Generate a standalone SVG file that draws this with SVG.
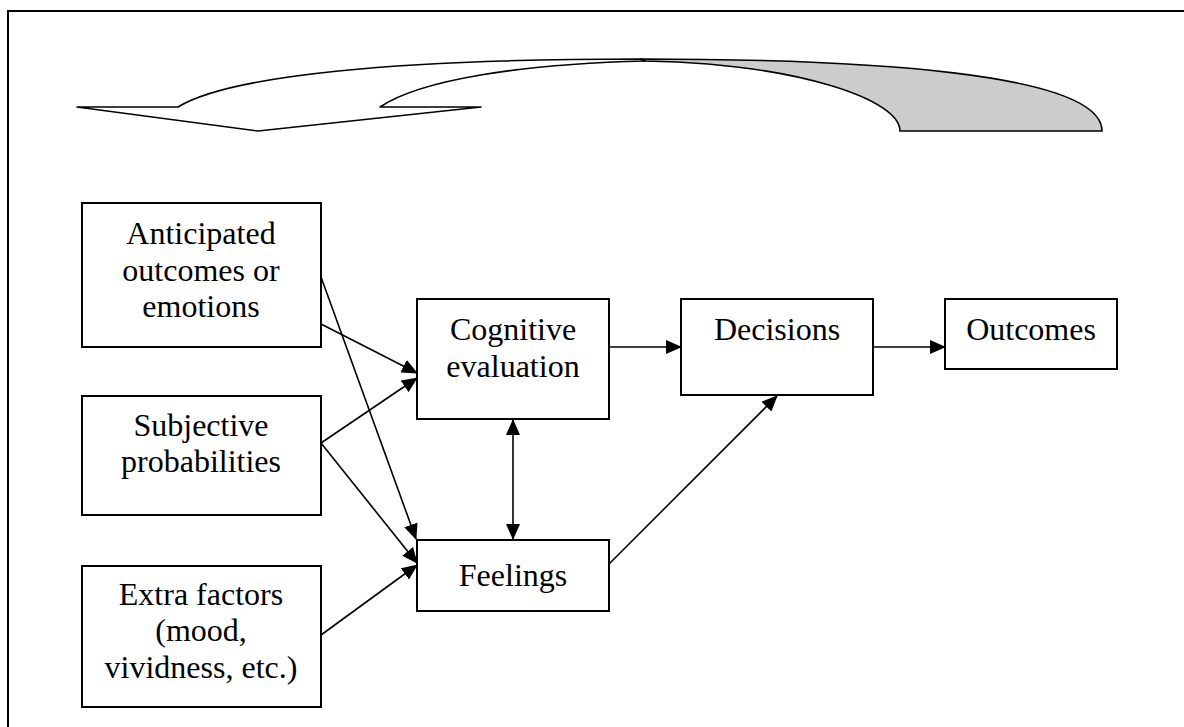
<svg xmlns="http://www.w3.org/2000/svg" width="1184" height="727" viewBox="0 0 1184 727">
<style>
.box{fill:#fff;stroke:#000;stroke-width:2}
.t{font-size:32px;fill:#000;text-anchor:middle}
.c{fill:none;stroke:#000;stroke-width:1.6}
</style>
<defs>
<marker id="ah" markerUnits="userSpaceOnUse" markerWidth="16" markerHeight="14" refX="15" refY="7" orient="auto-start-reverse">
<path d="M0,0 L16,7 L0,14 Z" fill="#000"/>
</marker>
</defs>
<rect x="8" y="11" width="1200" height="800" fill="#fff" stroke="#000" stroke-width="2"/>
<g id="curved-arrow">
<path d="M640,59 C860,59 1102,72 1102,131 L900,131 C900,100 800,64 645,61 Z" fill="#ccc" stroke="#000" stroke-width="1.6"/>
<path d="M77,107 L178,107 C230,75 400,59 640,59 L645,61 C520,64 420,80 380,107 L481,107 L258,131 Z" fill="#fff" stroke="#000" stroke-width="1.6" stroke-linejoin="round"/>
</g>
<g id="connectors">
<line class="c" x1="321" y1="324" x2="417" y2="373" marker-end="url(#ah)"/>
<line class="c" x1="321" y1="277" x2="416" y2="539" marker-end="url(#ah)"/>
<line class="c" x1="321" y1="443" x2="417" y2="378" marker-end="url(#ah)"/>
<line class="c" x1="321" y1="443" x2="417" y2="563" marker-end="url(#ah)"/>
<line class="c" x1="321" y1="635" x2="417" y2="565" marker-end="url(#ah)"/>
<line class="c" x1="609" y1="347" x2="681" y2="347" marker-end="url(#ah)"/>
<line class="c" x1="513" y1="420" x2="513" y2="539" marker-start="url(#ah)" marker-end="url(#ah)"/>
<line class="c" x1="609" y1="564" x2="777" y2="396" marker-end="url(#ah)"/>
<line class="c" x1="873" y1="347" x2="945" y2="347" marker-end="url(#ah)"/>
</g>
<g font-family="Liberation Serif, Times New Roman, DejaVu Serif, serif">
<g id="anticipated">
<rect class="box" x="82" y="203" width="239" height="144"/>
<text class="t" x="201" y="244">Anticipated</text>
<text class="t" x="201" y="281">outcomes or</text>
<text class="t" x="201" y="317">emotions</text>
</g>
<g id="subjective">
<rect class="box" x="82" y="396" width="239" height="119"/>
<text class="t" x="201" y="436">Subjective</text>
<text class="t" x="201" y="472">probabilities</text>
</g>
<g id="extra">
<rect class="box" x="82" y="566" width="239" height="141"/>
<text class="t" x="201" y="605">Extra factors</text>
<text class="t" x="201" y="641">(mood,</text>
<text class="t" x="201" y="678">vividness, etc.)</text>
</g>
<g id="cognitive">
<rect class="box" x="417" y="299" width="192" height="120"/>
<text class="t" x="513" y="340">Cognitive</text>
<text class="t" x="513" y="377">evaluation</text>
</g>
<g id="feelings">
<rect class="box" x="417" y="540" width="192" height="71"/>
<text class="t" x="513" y="586">Feelings</text>
</g>
<g id="decisions">
<rect class="box" x="681" y="299" width="192" height="96"/>
<text class="t" x="777" y="340">Decisions</text>
</g>
<g id="outcomes">
<rect class="box" x="945" y="299" width="172" height="70"/>
<text class="t" x="1031" y="340">Outcomes</text>
</g>
</g>
</svg>
